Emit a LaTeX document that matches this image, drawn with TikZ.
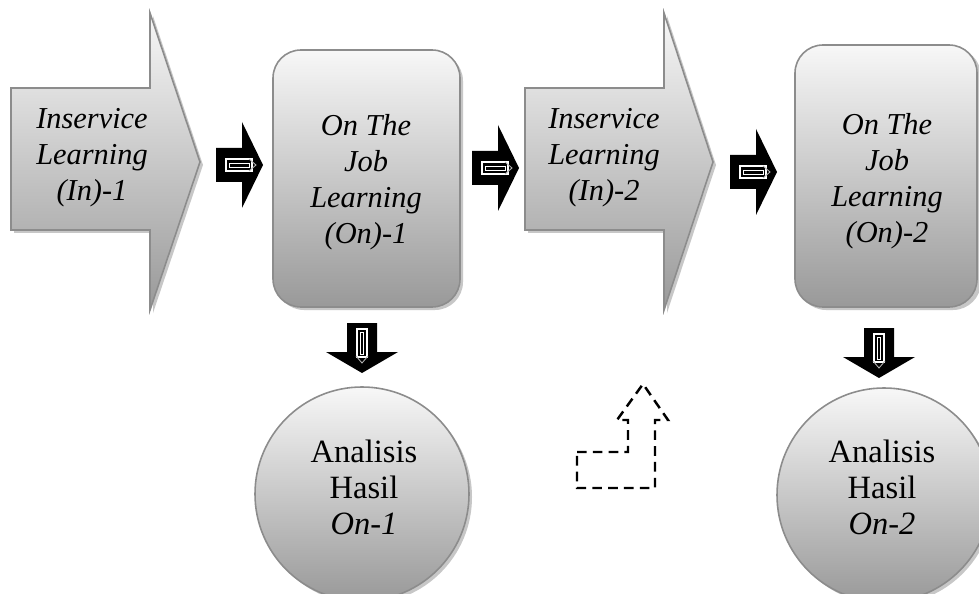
\documentclass[tikz,border=0pt]{standalone}
\usepackage{fontspec}
\setmainfont{Liberation Serif}
\begin{document}
\begin{tikzpicture}[x=0.02cm,y=-0.02cm,
  gbox/.style={draw=black!45, line width=0.9pt, top color=black!3, bottom color=black!40},
  shadowfill/.style={fill=black!22},
  lbl/.style={font=\fontsize{17.3}{20.5}\selectfont\itshape, align=center, inner sep=0pt},
  lblr/.style={font=\fontsize{18.5}{20.5}\selectfont, align=center, inner sep=0pt},
  dashbox/.style={line width=1.4pt, dash pattern=on 5.5pt off 3.5pt},
  blkR/.pic={
    \fill[black] (0,-17) -- (26,-17) -- (26,-43) -- (47,0) -- (26,43) -- (26,17) -- (0,17) -- cycle;
    \draw[white, line width=0.6pt] (10,-6) rectangle (36,6);
    \draw[white, line width=0.5pt] (13,-2) rectangle (33,2);
    \draw[black!30, line width=0.5pt] (33,-6) -- (40,0) -- (33,6);
  },
  blkD/.pic={
    \fill[black] (-15,0) -- (15,0) -- (15,29) -- (36,29) -- (0,50) -- (-36,29) -- (-15,29) -- cycle;
    \draw[white, line width=0.6pt] (-5,6) rectangle (5,34);
    \draw[white, line width=0.5pt] (-1.8,9) rectangle (1.8,31);
    \draw[black!30, line width=0.5pt] (-6,33) -- (0,40) -- (6,33);
  }]
\useasboundingbox (0,0) rectangle (979,594);
\fill[white] (0,0) rectangle (979,594);

% ---- big arrow In-1
\begin{scope}[shift={(3,3)}]
\fill[shadowfill] (11,88) -- (150,88) -- (150,13) -- (200,162) -- (150,310) -- (150,230) -- (11,230) -- cycle;
\end{scope}
\path[gbox] (11,88) -- (150,88) -- (150,13) -- (200,162) -- (150,310) -- (150,230) -- (11,230) -- cycle;
\node[lbl] (in1) at (92,158) {Inservice\\Learning\\(In)-1};

% ---- On-1 box
\fill[shadowfill, rounded corners=0.56cm] (276,53) rectangle (463,310);
\path[gbox, rounded corners=0.56cm] (273,50) rectangle (460,307);
\node[lbl] (on1) at (366,182) {On The\\Job\\Learning\\(On)-1};

% ---- big arrow In-2
\begin{scope}[shift={(3,3)}]
\fill[shadowfill] (525,88) -- (664,88) -- (664,13) -- (713,162) -- (664,310) -- (664,230) -- (525,230) -- cycle;
\end{scope}
\path[gbox] (525,88) -- (664,88) -- (664,13) -- (713,162) -- (664,310) -- (664,230) -- (525,230) -- cycle;
\node[lbl] (in2) at (604,158) {Inservice\\Learning\\(In)-2};

% ---- On-2 box
\fill[shadowfill, rounded corners=0.56cm] (798,48) rectangle (981,310);
\path[gbox, rounded corners=0.56cm] (795,45) rectangle (977,307);
\node[lbl] (on2) at (887,181) {On The\\Job\\Learning\\(On)-2};

% ---- circles
\fill[shadowfill] (365,497) circle[radius=107];
\path[gbox] (362,494) circle[radius=107];
\node[lblr] (an1) at (364,487) {Analisis\\Hasil\\\textit{On-1}};

\fill[shadowfill] (887,498) circle[radius=107];
\path[gbox] (884,495) circle[radius=107];
\node[lblr] (an2) at (882,487) {Analisis\\Hasil\\\textit{On-2}};

% ---- black block arrows
\pic at (216,165) {blkR};
\pic at (472,168) {blkR};
\pic at (730,172) {blkR};
\pic at (362,323) {blkD};
\pic at (879,328) {blkD};

% ---- dashed bent arrow
\draw[dashbox] (577,452) -- (628,452) -- (628,420) -- (617,420) -- (643,384) -- (668,420) -- (655,420) -- (655,488) -- (577,488) -- cycle;
\end{tikzpicture}
\end{document}
